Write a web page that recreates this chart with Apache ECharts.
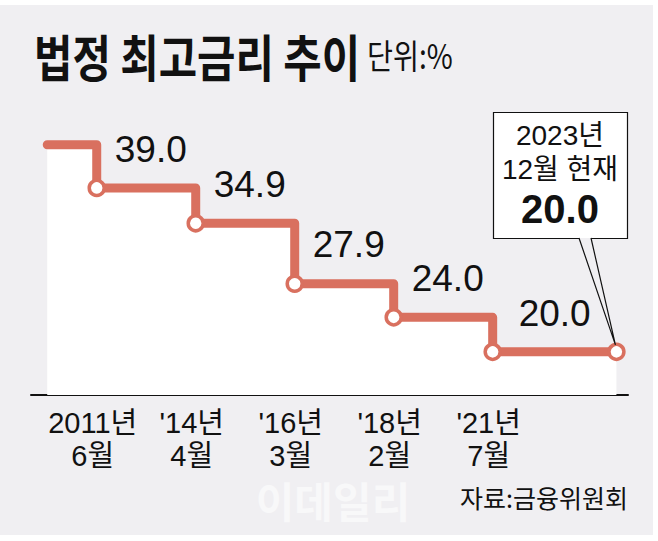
<!DOCTYPE html>
<html><head><meta charset="utf-8">
<script src="https://cdn.jsdelivr.net/npm/echarts@6/dist/echarts.min.js"></script>
<style>html,body{margin:0;padding:0;background:#fff}#c{width:658px;height:541px}</style>
</head><body><div id="c"></div>
<script>
// ---- data ----
const periodLabels = ['2011년\n6월', "'14년\n4월", "'16년\n3월", "'18년\n2월", "'21년\n7월"];
const periodSlots = [0, 1, 2, 3, 4];
const stepSlots = [-0.5, 0, 1, 2, 3, 4, 5.25];      // position of each change on the (evenly spaced) x axis
const rateValues = [44.0, 39.0, 34.9, 27.9, 24.0, 20.0, 20.0];
const currentLabel = ['2023년', '12월 현재', '20.0'];
const titleText = '법정 최고금리 추이';
const unitText = '단위:%';
const sourceText = '자료:금융위원회';

const RED = '#d9705f';
const NUM_FONT = '"Liberation Sans", "Noto Sans CJK KR", sans-serif';
const KR_FONT = '"Noto Sans CJK KR", sans-serif';

const chart = echarts.init(document.getElementById('c'), null, {renderer: 'svg'});

const seriesData = stepSlots.map((x, i) => {
  const d = {value: [x, rateValues[i]]};
  if (i === 0) d.symbol = 'none';
  if (i === 0 || i === stepSlots.length - 1) d.label = {show: false};
  if (i === stepSlots.length - 2) d.label = {offset: [62, 0]};
  return d;
});

chart.setOption({
  backgroundColor: '#ffffff',
  animation: false,
  grid: {left: 31, right: 30, top: 93, bottom: 146},
  xAxis: {
    type: 'value', min: -0.664, max: 5.367,
    splitLine: {show: false},
    axisLine: {show: true, lineStyle: {color: '#111', width: 2}},
    axisTick: {show: true, inside: true, length: 9, lineStyle: {color: '#111', width: 1.5}, customValues: periodSlots},
    axisLabel: {
      customValues: periodSlots,
      formatter: v => periodLabels[periodSlots.indexOf(v)],
      color: '#111', fontFamily: NUM_FONT, fontSize: 29, lineHeight: 33, margin: 11,
      padding: [0, 8, 0, 0]
    }
  },
  yAxis: {type: 'value', min: 15, max: 50, show: false, splitLine: {show: false}},
  series: [{
    type: 'line', step: 'end', data: seriesData,
    lineStyle: {color: RED, width: 9, join: 'round', cap: 'round'},
    areaStyle: {color: '#ffffff', opacity: 1, origin: 'start'},
    symbol: 'circle', symbolSize: 15, showSymbol: true,
    itemStyle: {color: '#ffffff', borderColor: RED, borderWidth: 3.5},
    label: {
      show: true, position: 'top', distance: 11, offset: [54, 0],
      formatter: p => p.value[1].toFixed(1),
      color: '#111', fontFamily: NUM_FONT, fontSize: 37
    },
    z: 3
  }]
});

const tip = chart.convertToPixel({seriesIndex: 0}, [stepSlots[stepSlots.length - 1], rateValues[rateValues.length - 1]]);

chart.setOption({
  graphic: [
    {type: 'rect', z: -100, silent: true, shape: {x: 0, y: 5, width: 653, height: 530}, style: {fill: '#f0eff2'}},
    {type: 'text', x: 34, y: 30, scaleX: 0.835, style: {text: titleText, fontFamily: KR_FONT, fontWeight: 'bold', fontSize: 50, fill: '#111'}},
    {type: 'text', x: 367, y: 37, scaleX: 0.83, style: {text: unitText, fontFamily: KR_FONT, fontSize: 34, fill: '#111'}},
    {type: 'text', x: 333, y: 478, style: {text: '이데일리', fontFamily: KR_FONT, fontWeight: 'bold', fontSize: 42, fill: '#f8f8f9', align: 'center'}},
    {type: 'text', x: 628, y: 484, style: {text: sourceText, fontFamily: KR_FONT, fontSize: 25, fill: '#111', align: 'right'}},
    {type: 'rect', z: 10, shape: {x: 493.5, y: 112.5, width: 134, height: 126}, style: {fill: '#fff', stroke: '#111', lineWidth: 1.2}},
    {type: 'polyline', z: 11, shape: {points: [[579, 238], [tip[0] - 1, tip[1] - 7], [591, 238]]}, style: {stroke: '#111', lineWidth: 1.2, fill: '#f0eff2'}},
    {type: 'text', z: 12, x: 560, y: 121, style: {text: currentLabel[0], fontFamily: NUM_FONT, fontSize: 28, fill: '#111', align: 'center'}},
    {type: 'text', z: 12, x: 560, y: 155, style: {text: currentLabel[1], fontFamily: NUM_FONT, fontSize: 28, fill: '#111', align: 'center'}},
    {type: 'text', z: 12, x: 560, y: 189, style: {text: currentLabel[2], fontFamily: NUM_FONT, fontWeight: 'bold', fontSize: 40, fill: '#111', align: 'center'}}
  ]
});
</script>
</body></html>
